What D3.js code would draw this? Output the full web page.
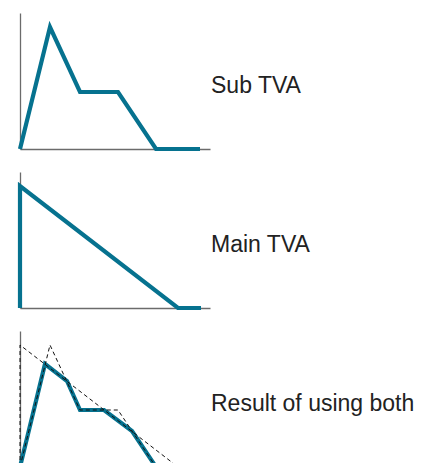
<!DOCTYPE html>
<html>
<head>
<meta charset="utf-8">
<script src="https://cdn.jsdelivr.net/npm/d3@7"></script>
<style>
  html, body { margin: 0; padding: 0; background: #fff; }
  svg { display: block; }
</style>
</head>
<body>
<svg id="chart"></svg>
<script>
// Panel labels.
const labels = ['Sub TVA', 'Main TVA', 'Result of using both'];

// Sub TVA profile (x = position, y = value).
const subX = [0, 3, 6, 9.8, 13.6, 18];
const subY = [0, 12.2, 5.7, 5.7, 0, 0];

// Main TVA profile.
const mainX = [0, 0, 15.8, 18.1];
const mainY = [0, 12.2, 0, 0];

// Combined result.
const resultX = [0, 2.5, 4.7, 6, 8.4, 11.2, 13.6, 18];
const resultY = [0, 10.3, 8.6, 5.7, 5.7, 3.6, 0, 0];

const toPoints = (xs, ys) => xs.map((x, i) => ({ x, y: ys[i] }));
const sub = toPoints(subX, subY);
const main = toPoints(mainX, mainY);
const result = toPoints(resultX, resultY);

const width = 437, height = 463;
const teal = '#06728f';

const svg = d3.select('#chart').attr('width', width).attr('height', height);

// Scales, shared by all three panels.
const xScale = d3.scaleLinear().domain([0, 19]).range([20, 210]);
const yScale = d3.scaleLinear().domain([0, 13.6]).range([136, 0]);

const line = d3.line().x(d => xScale(d.x)).y(d => yScale(d.y));

const panelTops = [13, 172, 331];

const panels = [
  { solid: sub, dashed: [] },
  { solid: main, dashed: [] },
  { solid: result, dashed: [main, sub] }
];

panels.forEach((p, i) => {
  const g = svg.append('g').attr('transform', `translate(0,${panelTops[i]})`);

  // Axes (just the domain lines).
  const yAxis = g.append('g')
    .attr('transform', `translate(${xScale(0)},0)`)
    .call(d3.axisLeft(yScale).tickValues([]).tickSizeOuter(0));
  const xAxis = g.append('g')
    .attr('transform', `translate(0,${yScale(0)})`)
    .call(d3.axisBottom(xScale).tickValues([]).tickSizeOuter(0));
  [yAxis, xAxis].forEach(a => a.select('.domain')
    .attr('stroke', '#6b6b6b')
    .attr('stroke-width', 1.3));

  // Teal line.
  g.append('path')
    .datum(p.solid)
    .attr('fill', 'none')
    .attr('stroke', teal)
    .attr('stroke-width', 4.2)
    .attr('stroke-linejoin', 'miter')
    .attr('d', line);

  // Dashed reference lines.
  p.dashed.forEach(d => {
    g.append('path')
      .datum(d)
      .attr('fill', 'none')
      .attr('stroke', '#111')
      .attr('stroke-width', 1)
      .attr('stroke-dasharray', '4,3')
      .attr('d', line);
  });

  // Label.
  g.append('text')
    .attr('x', 211)
    .attr('y', yScale(5.6))
    .attr('font-family', '"Liberation Sans", Arial, Helvetica, sans-serif')
    .attr('font-size', 23)
    .attr('fill', '#222')
    .text(labels[i]);
});
</script>
</body>
</html>
